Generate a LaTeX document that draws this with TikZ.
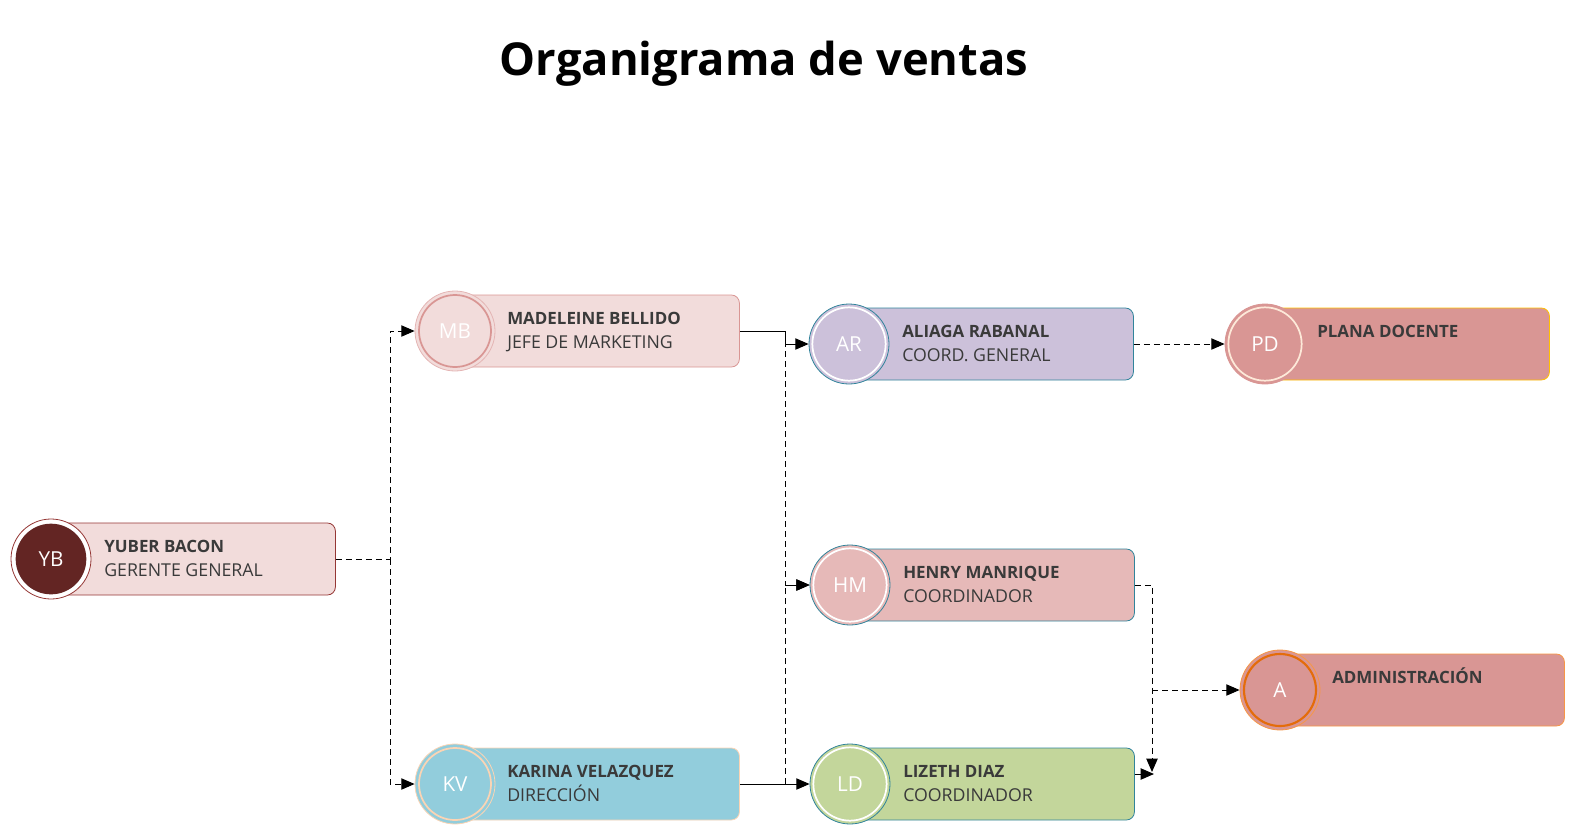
\documentclass[tikz,border=0pt]{standalone}
\usepackage{fontspec}
\setmainfont{Open Sans}
\usetikzlibrary{arrows.meta}

\definecolor{vino}{HTML}{632523}
\definecolor{vinoclaro}{HTML}{953735}
\definecolor{rosapalido}{HTML}{F2DCDB}
\definecolor{rosamedio}{HTML}{E6B9B8}
\definecolor{rosaviejo}{HTML}{D99694}
\definecolor{lila}{HTML}{CCC1DA}
\definecolor{celeste}{HTML}{92CDDC}
\definecolor{verdoso}{HTML}{C3D69B}
\definecolor{petroleo}{HTML}{31849B}
\definecolor{crema}{HTML}{FDE9D9}
\definecolor{durazno}{HTML}{FBD4B4}
\definecolor{oro}{HTML}{FFC000}
\definecolor{naranja}{HTML}{F79646}
\definecolor{naranjaosc}{HTML}{E46C0A}
\definecolor{texto}{HTML}{3A3A3A}

\begin{document}
\begin{tikzpicture}[x=0.75pt, y=-0.75pt,
    caja/.style    = {rounded corners=6pt, line width=0.6pt, anchor=west,
                      minimum width=213pt, minimum height=54pt},
    circulo/.style = {circle, line width=0.6pt, minimum size=60pt, inner sep=0pt,
                      text=white, font=\fontsize{15.5}{18}\selectfont},
    nombre/.style  = {anchor=base west, inner sep=0pt, text=texto,
                      font=\fontsize{12.7}{15}\selectfont\bfseries},
    cargo/.style   = {anchor=base west, inner sep=0pt, text=texto,
                      font=\fontsize{13.3}{16}\selectfont},
    flecha/.style  = {line width=0.75pt, -{Triangle[length=10pt, width=8.5pt]}},
    punteado/.style = {flecha, dash pattern=on 4.5pt off 3pt}]

    \useasboundingbox (0,0) rectangle (1575,836);

    \node[font=\fontsize{34}{41}\selectfont\bfseries, anchor=base] (titulo) at (764,75) {Organigrama de ventas};

    % gerente
    \node[caja, fill=rosapalido, draw=vinoclaro] (yb-caja) at (51,559) {};
    \node[circulo, fill=white, draw=vinoclaro] (yb) at (51,559) {};
    \fill[vino] (yb.center) circle[radius=26.5pt] node[text=white, font=\fontsize{15.5}{18}\selectfont] {YB};
    \node[nombre] (yb-nombre) at (104,552) {YUBER BACON};
    \node[cargo]  (yb-cargo)  at (104,576) {GERENTE GENERAL};

    % segundo nivel
    \node[caja, fill=rosapalido, draw=rosaviejo] (mb-caja) at (455,331) {};
    \node[circulo, fill=rosapalido, draw=rosaviejo!70] (mb) at (455,331) {MB};
    \draw[rosaviejo, line width=1.3pt] (mb.center) circle[radius=27pt];
    \node[nombre] (mb-nombre) at (507,324) {MADELEINE BELLIDO};
    \node[cargo]  (mb-cargo)  at (507,348) {JEFE DE MARKETING};

    \node[caja, fill=celeste, draw=durazno] (kv-caja) at (455,784) {};
    \node[circulo, fill=celeste, draw=durazno] (kv) at (455,784) {KV};
    \draw[durazno, line width=1.3pt] (kv.center) circle[radius=27pt];
    \node[nombre] (kv-nombre) at (507,777) {KARINA VELAZQUEZ};
    \node[cargo]  (kv-cargo)  at (507,801) {DIRECCIÓN};

    % coordinadores
    \node[caja, fill=lila, draw=petroleo] (ar-caja) at (849,344) {};
    \node[circulo, fill=lila, draw=petroleo] (ar) at (849,344) {AR};
    \draw[white, line width=1.3pt] (ar.center) circle[radius=27.5pt];
    \node[nombre] (ar-nombre) at (902,337) {ALIAGA RABANAL};
    \node[cargo]  (ar-cargo)  at (902,361) {COORD. GENERAL};

    \node[caja, fill=rosamedio, draw=petroleo] (hm-caja) at (850,585) {};
    \node[circulo, fill=rosamedio, draw=petroleo] (hm) at (850,585) {HM};
    \draw[white, line width=1.3pt] (hm.center) circle[radius=27.5pt];
    \node[nombre] (hm-nombre) at (903,578) {HENRY MANRIQUE};
    \node[cargo]  (hm-cargo)  at (903,602) {COORDINADOR};

    \node[caja, fill=verdoso, draw=petroleo] (ld-caja) at (850,784) {};
    \node[circulo, fill=verdoso, draw=petroleo] (ld) at (850,784) {LD};
    \draw[white, line width=1.3pt] (ld.center) circle[radius=27.5pt];
    \node[nombre] (ld-nombre) at (903,777) {LIZETH DIAZ};
    \node[cargo]  (ld-cargo)  at (903,801) {COORDINADOR};

    % areas
    \node[caja, fill=rosaviejo, draw=oro] (pd-caja) at (1265,344) {};
    \node[circulo, fill=rosaviejo, draw=rosaviejo] (pd) at (1265,344) {PD};
    \draw[crema, line width=1.3pt] (pd.center) circle[radius=27.5pt];
    \node[nombre] (pd-nombre) at (1317,337) {PLANA DOCENTE};

    \node[caja, fill=rosaviejo, draw=naranja] (a-caja) at (1280,690) {};
    \node[circulo, fill=rosaviejo, draw=naranja] (a) at (1280,690) {A};
    \draw[naranjaosc, line width=1.6pt] (a.center) circle[radius=27pt];
    \node[nombre] (a-nombre) at (1332,683) {ADMINISTRACIÓN};

    % conectores
    \coordinate (bus) at (390,559);
    \coordinate (codo) at (785,331);
    \coordinate (baja) at (785,784);
    \coordinate (lado) at (1152,585);
    \coordinate (llega) at (1152,772);
    \coordinate (rama) at (1152,690);
    \coordinate (punta) at (1154,774);

    \draw[punteado] (yb-caja.east) -- (bus) |- (mb.west);
    \draw[punteado] (bus) |- (kv.west);
    \draw[punteado] (codo) |- (hm.west);
    \draw[punteado] (baja) |- (hm.west);
    \draw[flecha] (mb-caja.east) -- (codo) |- (ar.west);
    \draw[flecha] (kv-caja.east) -- (ld.west);
    \draw[punteado] (ar-caja.east) -- (pd.west);
    \draw[punteado] (hm-caja.east) -- (lado) -- (llega);
    \draw[punteado] (rama) -- (a.west);
    \draw[flecha] (ld-caja.east |- punta) -- (punta);
\end{tikzpicture}
\end{document}
